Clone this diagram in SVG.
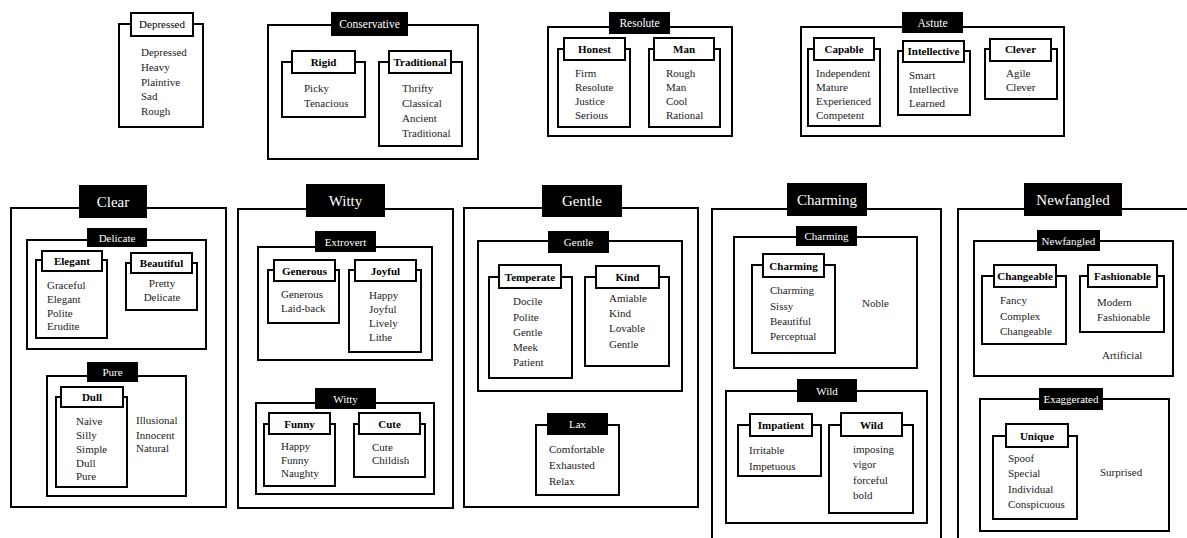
<svg xmlns="http://www.w3.org/2000/svg" width="1187" height="538" viewBox="0 0 1187 538">
<style>
.box{fill:none;stroke:#000;stroke-width:2}
.wtab{fill:#fff;stroke:#000;stroke-width:2}
.btab{fill:#000}
text{font-family:"Liberation Serif","Times New Roman",serif}
.it{font-size:11px;fill:#222}
.wl{font-size:11px;font-weight:bold;fill:#000;text-anchor:middle}
.wr{font-size:11px;fill:#000;text-anchor:middle}
.bl{font-size:11px;fill:#fff;text-anchor:middle}
.bm{font-size:11.5px;fill:#fff;text-anchor:middle}
.bb{font-size:15px;fill:#fff;text-anchor:middle}
.c{text-anchor:middle}
</style>
<rect width="1187" height="538" fill="#fff"/>

<g id="depressed">
<rect class="box" x="119" y="24" width="84" height="103"/>
<rect class="wtab" x="131" y="13" width="62" height="23"/>
<text class="wr" x="162" y="28">Depressed</text>
<text class="it" x="141" y="56">Depressed</text>
<text class="it" x="141" y="71">Heavy</text>
<text class="it" x="141" y="86">Plaintive</text>
<text class="it" x="141" y="100">Sad</text>
<text class="it" x="141" y="115">Rough</text>
</g>

<g id="conservative">
<rect class="box" x="268" y="25" width="210" height="134"/>
<rect class="btab" x="331" y="12" width="77" height="24"/>
<text class="bm" x="369.5" y="28">Conservative</text>
<g id="rigid">
<rect class="box" x="282" y="62" width="83" height="55"/>
<rect class="wtab" x="292" y="51" width="63" height="22"/>
<text class="wl" x="323.5" y="66">Rigid</text>
<text class="it" x="304" y="92">Picky</text>
<text class="it" x="304" y="107">Tenacious</text>
</g>
<g id="traditional">
<rect class="box" x="379" y="62" width="83" height="84"/>
<rect class="wtab" x="389" y="51" width="62" height="22"/>
<text class="wl" x="420" y="66">Traditional</text>
<text class="it" x="402" y="92">Thrifty</text>
<text class="it" x="402" y="107">Classical</text>
<text class="it" x="402" y="122">Ancient</text>
<text class="it" x="402" y="137">Traditional</text>
</g>
</g>

<g id="resolute">
<rect class="box" x="548" y="27" width="184" height="109"/>
<rect class="btab" x="609" y="12" width="61" height="22"/>
<text class="bm" x="639.5" y="27">Resolute</text>
<g id="honest">
<rect class="box" x="558" y="49" width="72" height="78"/>
<rect class="wtab" x="564" y="38" width="61" height="22"/>
<text class="wl" x="594.5" y="53">Honest</text>
<text class="it" x="575" y="77">Firm</text>
<text class="it" x="575" y="91">Resolute</text>
<text class="it" x="575" y="105">Justice</text>
<text class="it" x="575" y="119">Serious</text>
</g>
<g id="man">
<rect class="box" x="649" y="49" width="71" height="78"/>
<rect class="wtab" x="654" y="38" width="60" height="22"/>
<text class="wl" x="684" y="53">Man</text>
<text class="it" x="666" y="77">Rough</text>
<text class="it" x="666" y="91">Man</text>
<text class="it" x="666" y="105">Cool</text>
<text class="it" x="666" y="119">Rational</text>
</g>
</g>

<g id="astute">
<rect class="box" x="801" y="27" width="263" height="109"/>
<rect class="btab" x="902" y="12" width="61" height="21"/>
<text class="bm" x="932.5" y="27">Astute</text>
<g id="capable">
<rect class="box" x="808" y="49" width="72" height="77"/>
<rect class="wtab" x="814" y="38" width="60" height="22"/>
<text class="wl" x="844" y="53">Capable</text>
<text class="it" x="816" y="77">Independent</text>
<text class="it" x="816" y="91">Mature</text>
<text class="it" x="816" y="105">Experienced</text>
<text class="it" x="816" y="119">Competent</text>
</g>
<g id="intellective">
<rect class="box" x="898" y="51" width="72" height="64"/>
<rect class="wtab" x="903" y="41" width="61" height="21"/>
<text class="wl" x="933.5" y="55">Intellective</text>
<text class="it" x="909" y="79">Smart</text>
<text class="it" x="909" y="93">Intellective</text>
<text class="it" x="909" y="107">Learned</text>
</g>
<g id="clever">
<rect class="box" x="985" y="49" width="72" height="50"/>
<rect class="wtab" x="990" y="39" width="61" height="22"/>
<text class="wl" x="1020.5" y="53">Clever</text>
<text class="it" x="1006" y="77">Agile</text>
<text class="it" x="1006" y="91">Clever</text>
</g>
</g>

<g id="clear">
<rect class="box" x="11" y="208" width="215" height="299"/>
<rect class="btab" x="79" y="185" width="68" height="33"/>
<text class="bb" x="113" y="207">Clear</text>
<g id="delicate">
<rect class="box" x="27" y="240" width="179" height="109"/>
<rect class="btab" x="87" y="228" width="60" height="19"/>
<text class="bl" x="117" y="241.5">Delicate</text>
<g id="elegant">
<rect class="box" x="36" y="260" width="71" height="78"/>
<rect class="wtab" x="42" y="251" width="60" height="20"/>
<text class="wl" x="72" y="265">Elegant</text>
<text class="it" x="47" y="289">Graceful</text>
<text class="it" x="47" y="303">Elegant</text>
<text class="it" x="47" y="317">Polite</text>
<text class="it" x="47" y="330">Erudite</text>
</g>
<g id="beautiful">
<rect class="box" x="126" y="263" width="71" height="47"/>
<rect class="wtab" x="131" y="253" width="61" height="20"/>
<text class="wl" x="161.5" y="267">Beautiful</text>
<text class="it c" x="162" y="287">Pretty</text>
<text class="it c" x="162" y="301">Delicate</text>
</g>
</g>
<g id="pure">
<rect class="box" x="47" y="376" width="139" height="120"/>
<rect class="btab" x="87" y="362" width="51" height="20"/>
<text class="bl" x="112.5" y="376">Pure</text>
<g id="dull">
<rect class="box" x="56" y="397" width="71" height="90"/>
<rect class="wtab" x="61" y="387" width="62" height="20"/>
<text class="wl" x="92" y="401">Dull</text>
<text class="it" x="76" y="425">Naive</text>
<text class="it" x="76" y="438.5">Silly</text>
<text class="it" x="76" y="453">Simple</text>
<text class="it" x="76" y="466.5">Dull</text>
<text class="it" x="76" y="480">Pure</text>
</g>
<text class="it" x="136" y="424">Illusional</text>
<text class="it" x="136" y="438.5">Innocent</text>
<text class="it" x="136" y="452">Natural</text>
</g>
</g>

<g id="witty">
<rect class="box" x="238" y="209" width="215" height="299"/>
<rect class="btab" x="306" y="184" width="79" height="33"/>
<text class="bb" x="345.5" y="206">Witty</text>
<g id="extrovert">
<rect class="box" x="258" y="247" width="174" height="113"/>
<rect class="btab" x="315" y="231" width="61" height="21"/>
<text class="bl" x="345.5" y="245.5">Extrovert</text>
<g id="generous">
<rect class="box" x="268" y="270" width="71" height="53"/>
<rect class="wtab" x="274" y="260" width="61" height="21"/>
<text class="wl" x="304.5" y="274.5">Generous</text>
<text class="it" x="281" y="298">Generous</text>
<text class="it" x="281" y="312">Laid-back</text>
</g>
<g id="joyful">
<rect class="box" x="349" y="270" width="72" height="82"/>
<rect class="wtab" x="355" y="260" width="61" height="21"/>
<text class="wl" x="385.5" y="274.5">Joyful</text>
<text class="it" x="369" y="299">Happy</text>
<text class="it" x="369" y="313">Joyful</text>
<text class="it" x="369" y="327">Lively</text>
<text class="it" x="369" y="341">Lithe</text>
</g>
</g>
<g id="witty-inner">
<rect class="box" x="256" y="403" width="178" height="91"/>
<rect class="btab" x="315" y="388" width="61" height="21"/>
<text class="bl" x="345.5" y="402.5">Witty</text>
<g id="funny">
<rect class="box" x="264" y="424" width="71" height="62"/>
<rect class="wtab" x="269" y="413" width="61" height="21"/>
<text class="wl" x="299.5" y="427.5">Funny</text>
<text class="it" x="281" y="450">Happy</text>
<text class="it" x="281" y="463.5">Funny</text>
<text class="it" x="281" y="477">Naughty</text>
</g>
<g id="cute">
<rect class="box" x="354" y="424" width="71" height="53"/>
<rect class="wtab" x="359" y="413" width="61" height="21"/>
<text class="wl" x="389.5" y="427.5">Cute</text>
<text class="it" x="372" y="451">Cute</text>
<text class="it" x="372" y="464">Childish</text>
</g>
</g>
</g>

<g id="gentle">
<rect class="box" x="464" y="208" width="234" height="299"/>
<rect class="btab" x="542" y="185" width="80" height="32"/>
<text class="bb" x="582" y="206">Gentle</text>
<g id="gentle-inner">
<rect class="box" x="478" y="241" width="204" height="150"/>
<rect class="btab" x="548" y="231" width="61" height="22"/>
<text class="bl" x="578.5" y="246">Gentle</text>
<g id="temperate">
<rect class="box" x="489" y="277" width="83" height="101"/>
<rect class="wtab" x="499" y="265" width="62" height="23"/>
<text class="wl" x="530" y="280.5">Temperate</text>
<text class="it" x="513" y="305">Docile</text>
<text class="it" x="513" y="320.5">Polite</text>
<text class="it" x="513" y="336">Gentle</text>
<text class="it" x="513" y="351">Meek</text>
<text class="it" x="513" y="366">Patient</text>
</g>
<g id="kind">
<rect class="box" x="585" y="277" width="84" height="89"/>
<rect class="wtab" x="596" y="266" width="63" height="22"/>
<text class="wl" x="627.5" y="281">Kind</text>
<text class="it" x="609" y="302">Amiable</text>
<text class="it" x="609" y="317">Kind</text>
<text class="it" x="609" y="332">Lovable</text>
<text class="it" x="609" y="347.5">Gentle</text>
</g>
</g>
<g id="lax">
<rect class="box" x="536" y="425" width="83" height="70"/>
<rect class="btab" x="547" y="413" width="61" height="22"/>
<text class="bl" x="577.5" y="428">Lax</text>
<text class="it" x="549" y="453">Comfortable</text>
<text class="it" x="549" y="469">Exhausted</text>
<text class="it" x="549" y="485">Relax</text>
</g>
</g>

<g id="charming">
<path class="box" d="M712,540 V209 H941 V540"/>
<rect class="btab" x="787" y="183" width="80" height="33"/>
<text class="bb" x="827" y="205">Charming</text>
<g id="charming-inner">
<rect class="box" x="734" y="237" width="183" height="131"/>
<rect class="btab" x="796" y="226" width="61" height="20"/>
<text class="bl" x="826.5" y="240">Charming</text>
<g id="charming-sub">
<rect class="box" x="752" y="265" width="83" height="88"/>
<rect class="wtab" x="763" y="254" width="61" height="23"/>
<text class="wl" x="793.5" y="269.5">Charming</text>
<text class="it" x="770" y="294">Charming</text>
<text class="it" x="770" y="310">Sissy</text>
<text class="it" x="770" y="325">Beautiful</text>
<text class="it" x="770" y="340">Perceptual</text>
</g>
<text class="it" x="862" y="307">Noble</text>
</g>
<g id="wild-inner">
<rect class="box" x="726" y="391" width="201" height="132"/>
<rect class="btab" x="797" y="379" width="60" height="23"/>
<text class="bl" x="827" y="394.5">Wild</text>
<g id="impatient">
<rect class="box" x="738" y="425" width="83" height="51"/>
<rect class="wtab" x="750" y="414" width="62" height="22"/>
<text class="wl" x="781" y="429">Impatient</text>
<text class="it" x="749" y="454">Irritable</text>
<text class="it" x="749" y="470">Impetuous</text>
</g>
<g id="wild">
<rect class="box" x="829" y="425" width="84" height="88"/>
<rect class="wtab" x="841" y="413" width="61" height="23"/>
<text class="wl" x="871.5" y="428.5">Wild</text>
<text class="it" x="853" y="453">imposing</text>
<text class="it" x="853" y="468">vigor</text>
<text class="it" x="853" y="484">forceful</text>
<text class="it" x="853" y="499">bold</text>
</g>
</g>
</g>

<g id="newfangled">
<path class="box" d="M958,540 V209 H1188"/>
<rect class="btab" x="1024" y="183" width="98" height="33"/>
<text class="bb" x="1073" y="205">Newfangled</text>
<g id="newfangled-inner">
<rect class="box" x="974" y="241" width="199" height="135"/>
<rect class="btab" x="1037" y="230" width="63" height="21"/>
<text class="bl" x="1068.5" y="244.5">Newfangled</text>
<g id="changeable">
<rect class="box" x="982" y="276" width="84" height="68"/>
<rect class="wtab" x="994" y="265" width="62" height="22"/>
<text class="wl" x="1025" y="280">Changeable</text>
<text class="it" x="1000" y="304">Fancy</text>
<text class="it" x="1000" y="320">Complex</text>
<text class="it" x="1000" y="335">Changeable</text>
</g>
<g id="fashionable">
<rect class="box" x="1080" y="276" width="84" height="56"/>
<rect class="wtab" x="1088" y="265" width="69" height="22"/>
<text class="wl" x="1122.5" y="280">Fashionable</text>
<text class="it" x="1097" y="306">Modern</text>
<text class="it" x="1097" y="321">Fashionable</text>
</g>
<text class="it" x="1102" y="359">Artificial</text>
</g>
<g id="exaggerated">
<rect class="box" x="980" y="399" width="189" height="132"/>
<rect class="btab" x="1039" y="388" width="64" height="22"/>
<text class="bl" x="1071" y="403">Exaggerated</text>
<g id="unique">
<rect class="box" x="993" y="436" width="84" height="83"/>
<rect class="wtab" x="1006" y="424" width="62" height="23"/>
<text class="wl" x="1037" y="439.5">Unique</text>
<text class="it" x="1008" y="462">Spoof</text>
<text class="it" x="1008" y="477">Special</text>
<text class="it" x="1008" y="493">Individual</text>
<text class="it" x="1008" y="508">Conspicuous</text>
</g>
<text class="it" x="1100" y="476">Surprised</text>
</g>
</g>
</svg>
